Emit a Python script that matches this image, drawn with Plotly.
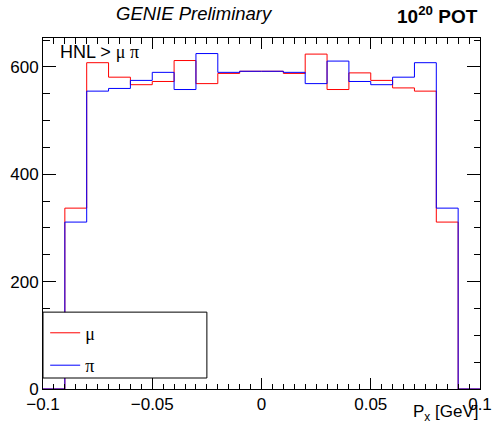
import numpy as np
import plotly.graph_objects as go

# Histogram data (bin width 0.01 GeV, range -0.1 .. 0.1)
bin_edges = [round(-0.1 + 0.01 * i, 2) for i in range(21)]
mu_counts = [0, 337, 608, 581, 567, 573, 612, 569, 588, 592,
             592, 588, 624, 558, 589, 575, 561, 555, 311, 0]
pi_counts = [0, 311, 555, 560, 575, 590, 558, 625, 590, 592,
             592, 590, 569, 611, 573, 567, 581, 608, 337, 0]

x_tick_vals = [-0.1, -0.05, 0, 0.05, 0.1]
x_tick_text = ["\u22120.1", "\u22120.05", "0", "0.05", "0.1"]
y_tick_vals = [0, 200, 400, 600]

FONT = "Liberation Sans, Arial, Helvetica, sans-serif"
SERIF = "Liberation Serif, Times New Roman, serif"

fig = go.Figure()
fig.add_trace(go.Scatter(
    x=bin_edges, y=mu_counts + [mu_counts[-1]], mode="lines",
    line=dict(color="#ff0000", width=1, shape="hv"),
    name="\u03bc", legendgroup="mu", hoverinfo="skip"))
fig.add_trace(go.Scatter(
    x=bin_edges, y=pi_counts + [pi_counts[-1]], mode="lines",
    line=dict(color="#0000ff", width=1, shape="hv"),
    name="\u03c0", legendgroup="pi", hoverinfo="skip"))

minor_x = [round(-0.1 + 0.005 * i, 3) for i in range(41)]

fig.update_layout(
    width=493, height=428,
    margin=dict(l=43, r=13, t=38, b=39, autoexpand=False),
    paper_bgcolor="white", plot_bgcolor="white",
    font=dict(family=FONT, size=17, color="black"),
    showlegend=True,
    legend=dict(x=0.005, y=0.212, xanchor="left", yanchor="top",
                bgcolor="rgba(0,0,0,0)", borderwidth=0,
                font=dict(family=SERIF, size=18, color="black"),
                traceorder="grouped", tracegroupgap=6, itemwidth=30),
    xaxis=dict(range=[-0.1, 0.1], showgrid=False, zeroline=False, automargin=False,
               showline=True, linecolor="black", linewidth=1, mirror="ticks",
               ticks="inside", ticklen=11, tickcolor="black", tickwidth=1,
               tickmode="array", tickvals=x_tick_vals, ticktext=x_tick_text,
               tickfont=dict(family=FONT, size=17),
               minor=dict(tickmode="array", tickvals=minor_x, ticks="inside",
                          ticklen=5.5, tickcolor="black", tickwidth=1, showgrid=False)),
    yaxis=dict(range=[0, 654], showgrid=False, zeroline=False, automargin=False,
               showline=True, linecolor="black", linewidth=1, mirror="ticks",
               ticks="inside", ticklen=13, tickcolor="black", tickwidth=1,
               tickmode="array", tickvals=y_tick_vals,
               tickfont=dict(family=FONT, size=17),
               minor=dict(dtick=50, tick0=0, ticks="inside", ticklen=6.5,
                          tickcolor="black", tickwidth=1, showgrid=False)),
)

# legend box (white filled, like a ROOT TLegend)
fig.add_shape(type="rect", xref="paper", yref="paper",
              x0=0, x1=0.375, y0=0.0313, y1=0.219,
              line=dict(color="black", width=1), fillcolor="white", layer="above")

fig.add_annotation(text="<i>GENIE Preliminary</i>", xref="paper", yref="paper",
                   x=0.347, y=1.07, xanchor="center", yanchor="middle",
                   showarrow=False, font=dict(family=FONT, size=18.5))
fig.add_annotation(text="<b>10<sup>20</sup> POT</b>", xref="paper", yref="paper",
                   x=1.0, y=1.066, xanchor="right", yanchor="middle",
                   showarrow=False, font=dict(family=FONT, size=19))
fig.add_annotation(text="HNL &gt; <span style='font-family:Liberation Serif'>\u03bc \u03c0</span>",
                   xref="paper", yref="paper",
                   x=0.034, y=0.96, xanchor="left", yanchor="middle",
                   showarrow=False, font=dict(family=FONT, size=18))
fig.add_annotation(text="P<sub>x</sub> [GeV]", xref="paper", yref="paper",
                   x=1.0, y=-0.068, xanchor="right", yanchor="middle",
                   showarrow=False, font=dict(family=FONT, size=17))

fig.write_html("out.html")
